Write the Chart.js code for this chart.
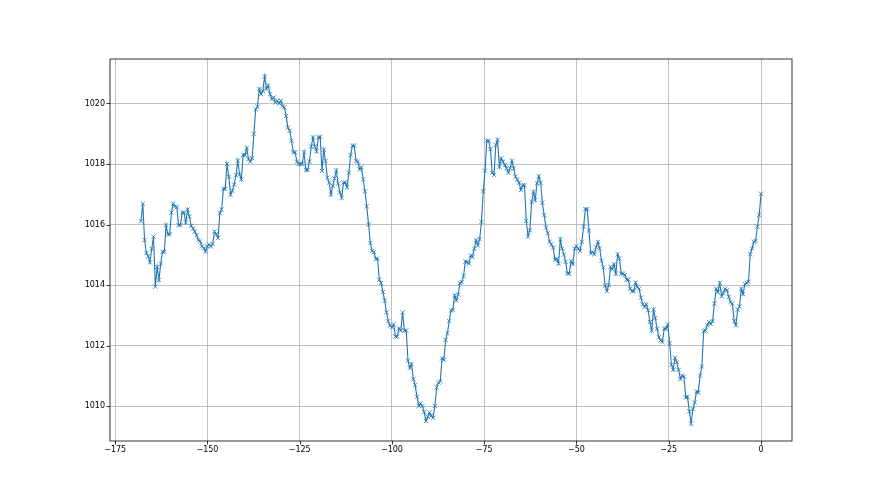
<!DOCTYPE html>
<html>
<head>
<meta charset="utf-8">
<script src="https://cdn.jsdelivr.net/npm/chart.js@4/dist/chart.umd.min.js"></script>
<style>
    html, body { margin: 0; padding: 0; background: #fff; }
    #wrap { width: 880px; height: 495px; }
</style>
</head>
<body>
<div id="wrap"><canvas id="main-chart" width="880" height="495"></canvas></div>
<script>
// pressure readings, oldest first (three stretches of the week)
const pressureEarly = [
    1016.11, 1016.69, 1015.49, 1015.06, 1014.95, 1014.75, 1015.2, 1015.6, 1013.95, 1014.6,
    1014.17, 1014.7, 1015.1, 1015.1, 1015.98, 1015.68, 1015.68, 1016.4, 1016.69, 1016.6,
    1016.57, 1015.98, 1015.98, 1016.4, 1016.4, 1016.07, 1016.5, 1016.27, 1015.96, 1015.87,
    1015.77, 1015.65, 1015.49, 1015.45, 1015.28, 1015.23, 1015.1, 1015.28, 1015.34, 1015.28,
    1015.36, 1015.77, 1015.68, 1015.56, 1016.38, 1016.5, 1017.18, 1017.18, 1018.0, 1017.58,
    1016.99, 1017.12, 1017.32, 1017.63, 1018.11, 1017.66, 1017.49, 1018.3, 1018.3, 1018.53,
    1018.16, 1018.08, 1018.19, 1019.0, 1019.81, 1019.89, 1020.48, 1020.31, 1020.42, 1020.9,
    1020.48, 1020.6, 1020.31, 1020.15, 1020.2, 1020.03, 1020.09, 1020.0, 1020.09, 1019.91,
    1019.87, 1019.59, 1019.2, 1019.1, 1018.77, 1018.39, 1018.39, 1018.08, 1018.0, 1018.0,
    1018.0, 1018.39, 1017.8, 1017.8, 1018.08, 1018.58, 1018.88, 1018.58, 1018.41, 1018.88,
    1018.9, 1017.77, 1018.47, 1018.1, 1017.55, 1017.39, 1016.99, 1017.28, 1017.52, 1017.79,
    1017.35, 1017.06, 1016.88, 1017.39, 1017.39
];
const pressureMiddle = [
    1017.23, 1017.71, 1018.3, 1018.61, 1018.61, 1018.11, 1018.08, 1017.82, 1017.89, 1017.49,
    1017.1, 1016.6, 1016.0, 1015.39, 1015.13, 1015.09, 1014.87, 1014.87, 1014.18, 1014.07,
    1013.77, 1013.49, 1013.1, 1012.81, 1012.66, 1012.61, 1012.7, 1012.3, 1012.3, 1012.57,
    1012.5, 1013.1, 1012.5, 1012.5, 1011.5, 1011.26, 1011.39, 1010.89, 1010.7, 1010.31,
    1010.01, 1010.09, 1010.01, 1009.81, 1009.51, 1009.65, 1009.79, 1009.68, 1009.62, 1010.01,
    1010.62, 1010.78, 1010.82, 1011.58, 1011.53, 1012.19, 1012.41, 1012.81, 1013.16, 1013.18,
    1013.66, 1013.49, 1013.69, 1014.07, 1014.1, 1014.3, 1014.78, 1014.76, 1014.71, 1014.98,
    1014.93, 1015.2, 1015.48, 1015.31, 1015.52, 1016.09, 1017.1, 1017.78, 1018.77, 1018.77,
    1018.49, 1017.71, 1017.64, 1018.63, 1018.8, 1017.91, 1018.19, 1018.08, 1017.97, 1017.86,
    1017.71, 1017.86, 1018.11, 1017.86, 1017.58, 1017.49, 1017.38, 1017.14, 1017.3, 1017.3,
    1016.12, 1015.61, 1015.81, 1016.75, 1017.08, 1016.81, 1017.36, 1017.6, 1017.38, 1016.72,
    1016.31, 1015.9, 1015.72, 1015.43, 1015.35, 1015.24, 1014.84, 1014.87
];
const pressureLate = [
    1014.71, 1015.51, 1015.21, 1015.01, 1014.77, 1014.38, 1014.38, 1014.79, 1014.69, 1015.21,
    1015.29, 1015.21, 1015.13, 1015.43, 1015.93, 1016.51, 1016.51, 1015.8, 1015.05, 1015.09,
    1015.02, 1015.25, 1015.43, 1015.21, 1014.8, 1014.58, 1013.98, 1013.8, 1014.0, 1014.6,
    1014.52, 1014.69, 1014.38, 1015.02, 1014.88, 1014.38, 1014.38, 1014.33, 1014.18, 1014.18,
    1013.88, 1013.8, 1013.8, 1014.08, 1013.94, 1013.88, 1013.59, 1013.37, 1013.28, 1013.37,
    1013.17, 1012.78, 1012.5, 1013.19, 1012.92, 1012.56, 1012.28, 1012.17, 1012.12, 1012.56,
    1012.56, 1012.7, 1012.08, 1011.37, 1011.2, 1011.6, 1011.45, 1011.2, 1010.9, 1011.01,
    1010.98, 1010.29, 1010.31, 1009.83, 1009.43, 1009.9, 1010.12, 1010.49, 1010.45, 1011.01,
    1011.31, 1012.48, 1012.5, 1012.67, 1012.78, 1012.72, 1012.81, 1013.39, 1013.88, 1013.77,
    1014.07, 1013.63, 1013.74, 1013.88, 1013.83, 1013.61, 1013.44, 1013.39, 1012.81, 1012.67,
    1013.19, 1013.3, 1013.88, 1013.7, 1014.03, 1014.07, 1014.11, 1015.02, 1015.21, 1015.43,
    1015.46, 1015.93, 1016.32, 1017.02
];

// time axis: hours before now, samples evenly spread over the last 168 h
const hoursBack = 168;
const xTickLabels = [-175, -150, -125, -100, -75, -50, -25, 0];
const yTickLabels = [1010, 1012, 1014, 1016, 1018, 1020];

const pressure = pressureEarly.concat(pressureMiddle, pressureLate);
const sampleStep = hoursBack / (pressure.length - 1);
const points = pressure.map((v, i) => ({ x: -hoursBack + i * sampleStep, y: v }));

// matplotlib writes negatives with a real minus sign and no thousands separator
const tickText = v => (v < 0 ? '\u2212' + Math.abs(v) : String(v));

// matplotlib-style frame plus black outward tick marks
const frameAndTicks = {
    id: 'frameAndTicks',
    afterDraw(chart) {
        const { ctx, chartArea: a, scales } = chart;
        ctx.save();
        ctx.strokeStyle = '#000';
        ctx.lineWidth = 0.8;
        ctx.strokeRect(a.left, a.top, a.right - a.left, a.bottom - a.top);

        ctx.beginPath();
        scales.x.ticks.forEach(t => {
            const px = Math.round(scales.x.getPixelForValue(t.value)) + 0.5;
            ctx.moveTo(px, a.bottom);
            ctx.lineTo(px, a.bottom + 3.5);
        });
        scales.y.ticks.forEach(t => {
            const py = Math.round(scales.y.getPixelForValue(t.value)) + 0.5;
            ctx.moveTo(a.left - 3.5, py);
            ctx.lineTo(a.left, py);
        });
        ctx.stroke();
        ctx.restore();
    }
};

Chart.defaults.font.family = '"DejaVu Sans", sans-serif';
Chart.defaults.font.size = 8;
Chart.defaults.color = '#000';

new Chart(document.getElementById('main-chart'), {
    type: 'line',
    data: {
        datasets: [{
            data: points,
            borderColor: '#1f77b4',
            borderWidth: 1.1,
            pointStyle: 'crossRot',
            pointRadius: 3,
            pointBorderWidth: 0.8,
            pointBorderColor: '#1f77b4',
            pointBackgroundColor: 'transparent',
            tension: 0,
            fill: false
        }]
    },
    options: {
        responsive: false,
        devicePixelRatio: 1,
        animation: false,
        layout: { padding: { top: 59, right: 88, bottom: 0, left: 0 } },
        scales: {
            x: {
                type: 'linear',
                min: -176.4,
                max: 8.4,
                afterBuildTicks: axis => { axis.ticks = xTickLabels.map(v => ({ value: v })); },
                afterFit: axis => { axis.height = 54; },
                ticks: { padding: 4, maxRotation: 0, callback: tickText },
                grid: { color: '#b0b0b0', lineWidth: 0.8, drawTicks: false },
                border: { display: false }
            },
            y: {
                min: 1008.85,
                max: 1021.47,
                afterBuildTicks: axis => { axis.ticks = yTickLabels.map(v => ({ value: v })); },
                afterFit: axis => { axis.width = 110; },
                ticks: { padding: 5, callback: tickText },
                grid: { color: '#b0b0b0', lineWidth: 0.8, drawTicks: false },
                border: { display: false }
            }
        },
        plugins: {
            legend: { display: false },
            tooltip: { enabled: false }
        }
    },
    plugins: [frameAndTicks]
});
</script>
</body>
</html>
